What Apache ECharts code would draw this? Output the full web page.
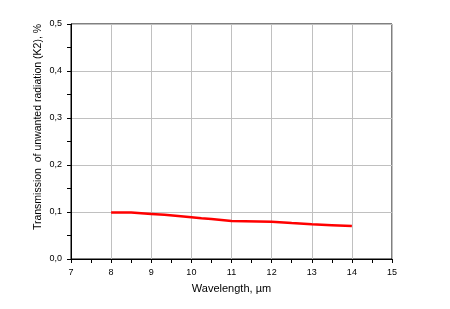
<!DOCTYPE html>
<html>
<head>
<meta charset="utf-8">
<script src="https://cdn.jsdelivr.net/npm/echarts@6/dist/echarts.min.js"></script>
<style>
    html, body { margin: 0; padding: 0; background: #fff; }
    #chart { width: 450px; height: 309px; }
</style>
</head>
<body>
<div id="chart"></div>
<script>
    // wavelength (um) where each step starts, last point closes the curve
    var wavelength = [8, 8.5, 9, 9.33, 9.67, 10, 10.25, 10.5, 10.75, 11, 12, 12.5, 13, 13.5, 14];
    // transmission of unwanted radiation (K2), %
    var transmission = [0.099, 0.096, 0.094, 0.0915, 0.089, 0.0865, 0.085, 0.083, 0.081,
        0.0795, 0.0765, 0.074, 0.072, 0.070, 0.070];

    var font = 'Liberation Sans, Arial, sans-serif';
    var points = [];
    for (var i = 0; i < wavelength.length; i++) {
        points.push([wavelength[i], transmission[i]]);
    }

    var myChart = echarts.init(document.getElementById('chart'), null, {renderer: 'canvas'});
    var option = {
        backgroundColor: '#fff',
        animation: false,
        grid: {
            left: 71,
            right: 58,
            top: 24,
            bottom: 50,
            show: true,
            borderColor: '#000',
            borderWidth: 1
        },
        xAxis: {
            type: 'value',
            min: 7,
            max: 15,
            interval: 1,
            name: 'Wavelength, \u00b5m',
            nameLocation: 'middle',
            nameGap: 24,
            nameTextStyle: {fontFamily: font, fontSize: 11, color: '#000'},
            axisLine: {onZero: false, lineStyle: {color: '#000', width: 1}},
            axisTick: {show: true, length: 4, inside: false, lineStyle: {color: '#000'}},
            minorTick: {show: true, splitNumber: 2, length: 4, lineStyle: {color: '#000'}},
            axisLabel: {fontFamily: font, fontSize: 9, color: '#000', margin: 9},
            splitLine: {show: true, lineStyle: {color: '#c0c0c0', width: 1}}
        },
        yAxis: {
            type: 'value',
            min: 0,
            max: 0.5,
            interval: 0.1,
            axisLine: {show: true, lineStyle: {color: '#000', width: 1}},
            axisTick: {show: true, length: 4, lineStyle: {color: '#000'}},
            minorTick: {show: true, splitNumber: 2, length: 4, lineStyle: {color: '#000'}},
            axisLabel: {
                fontFamily: font,
                fontSize: 9,
                color: '#000',
                margin: 9,
                formatter: function (v) {
                    return v.toFixed(1).replace('.', ',');
                }
            },
            splitLine: {show: true, lineStyle: {color: '#c0c0c0', width: 1}}
        },
        graphic: [
            {
                type: 'text',
                x: 38,
                y: 127,
                rotation: Math.PI / 2,
                style: {
                    text: 'Transmission  of unwanted radiation (K2), %',
                    font: '10.5px ' + font,
                    fill: '#000',
                    textAlign: 'center',
                    textVerticalAlign: 'middle'
                }
            }
        ],
        series: [
            {
                type: 'line',
                step: 'end',
                data: points,
                showSymbol: false,
                lineStyle: {color: '#ff0000', width: 2.5}
            }
        ]
    };
    myChart.setOption(option);
</script>
</body>
</html>
